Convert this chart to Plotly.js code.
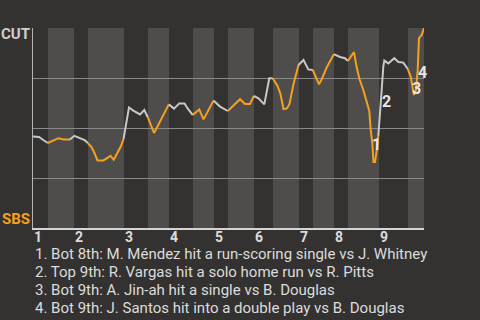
<!DOCTYPE html>
<html>
<head>
<meta charset="utf-8">
<script src="https://cdn.plot.ly/plotly-3.0.1.min.js"></script>
<style>html,body{margin:0;padding:0;background:#343230;}#chart{width:480px;height:320px;}</style>
</head>
<body>
<div id="chart"></div>
<script>
// Game progress (0-100) and CUT win probability
const progress = [0, 1.53, 2.63, 3.79, 5.24, 6.52, 7.80, 9.46, 10.56, 12.02, 13.30, 14.02,
  14.96, 15.60, 16.50, 18.03, 18.93, 19.82, 20.66, 21.61, 22.51, 23.15,
  24.55, 25.65, 26.52, 27.37, 28.47, 29.36,
  30.18, 30.95, 31.64, 32.48, 33.76, 34.73,
  36.06, 37.42, 38.75, 39.64, 40.87,
  42.53, 43.61, 44.83, 46.16,
  47.83, 49.82,
  51.23, 52.94, 54.22, 55.50, 56.47,
  57.67, 59.16, 60.43, 61.30,
  62.53, 63.30, 64.07, 64.96, 65.60, 66.57, 67.90,
  69.18, 70.41, 71.56,
  72.38, 73.15, 73.84, 75.12, 76.39, 76.93,
  78.52, 79.80, 80.51,
  82.10, 82.74, 83.50, 84.48, 85.35, 86.01, 86.37, 86.78, 87.08, 87.47, 87.85, 88.31,
  88.75, 89.18, 89.59, 89.85, 90.87, 92.40, 93.43, 94.71, 95.86,
  96.60, 97.11, 97.44, 97.95, 98.39, 98.72, 99.41, 100];
const winProb = [0.458, 0.455, 0.440, 0.425, 0.438, 0.449, 0.443, 0.442, 0.461, 0.449, 0.438, 0.425,
  0.405, 0.380, 0.338, 0.338, 0.349, 0.361, 0.341, 0.375, 0.410, 0.445,
  0.603, 0.587, 0.579, 0.568, 0.590, 0.554,
  0.518, 0.475, 0.500, 0.533, 0.580, 0.618,
  0.597, 0.623, 0.623, 0.595, 0.565,
  0.593, 0.543, 0.585, 0.637,
  0.607, 0.585,
  0.610, 0.644, 0.620, 0.620, 0.660,
  0.648, 0.618, 0.749, 0.749,
  0.710, 0.670, 0.595, 0.598, 0.620, 0.715, 0.815,
  0.840, 0.793, 0.790,
  0.749, 0.718, 0.744, 0.803, 0.849, 0.869,
  0.855, 0.849, 0.835,
  0.879, 0.807, 0.745, 0.690, 0.630, 0.585, 0.490, 0.424, 0.330, 0.330, 0.380, 0.460,
  0.557, 0.690, 0.807, 0.837, 0.823, 0.849, 0.830, 0.827, 0.795,
  0.757, 0.699, 0.665, 0.690, 0.790, 0.949, 0.965, 1.0];
// Half-inning boundaries (Top 1, Bot 1, Top 2, ...) in game progress
const halfStarts = [0, 3.84, 10.49, 14.07, 23.27, 29.41, 34.78, 40.92, 46.29, 49.87,
  56.52, 61.38, 68.03, 71.61, 76.98, 80.56, 88.49, 95.91, 100];
const innings = ['1','2','3','4','5','6','7','8','9'];
const teams = ['CUT', 'SBS'];
const events = [
  '1. Bot 8th: M. Méndez hit a run-scoring single vs J. Whitney',
  '2. Top 9th: R. Vargas hit a solo home run vs R. Pitts',
  '3. Bot 9th: A. Jin-ah hit a single vs B. Douglas',
  '4. Bot 9th: J. Santos hit into a double play vs B. Douglas'
];
const eventMarks = [
  {label: '1', x: 87.90, y: 0.42},
  {label: '2', x: 90.46, y: 0.635},
  {label: '3', x: 98.13, y: 0.70},
  {label: '4', x: 99.57, y: 0.779}
];

const TOP_COLOR = '#c8c8c8';
const BOT_COLOR = '#f5a01e';
const FONT = 'Roboto, "Noto Sans", sans-serif';

const traces = [];
const shapes = [];
for (let h = 0; h < halfStarts.length - 1; h++) {
  const a = halfStarts[h], b = halfStarts[h + 1];
  const xs = [], ys = [];
  let prev = -1;
  for (let i = 0; i < progress.length; i++) {
    const inside = (progress[i] >= a && progress[i] < b) || (h === halfStarts.length - 2 && progress[i] === b);
    if (inside) {
      if (xs.length === 0 && prev >= 0) { xs.push(progress[prev]); ys.push(winProb[prev]); }
      xs.push(progress[i]); ys.push(winProb[i]);
    } else if (progress[i] < a) prev = i;
  }
  const isBottom = h % 2 === 1;
  traces.push({x: xs, y: ys, type: 'scatter', mode: 'lines',
    line: {color: isBottom ? BOT_COLOR : TOP_COLOR, width: 2}, hoverinfo: 'skip', showlegend: false});
  if (isBottom) {
    shapes.push({type: 'rect', xref: 'x', yref: 'paper', x0: a, x1: b, y0: 0, y1: 1,
      fillcolor: '#4e4d4b', line: {width: 0}, layer: 'below'});
  }
}

const annotations = [];
for (let k = 0; k < innings.length; k++) {
  annotations.push({x: halfStarts[2 * k], y: -0.045, xref: 'x', yref: 'paper', text: innings[k],
    showarrow: false, xanchor: 'left', yanchor: 'middle', xshift: 1, borderpad: 0, borderwidth: 0,
    font: {family: FONT, size: 14, color: '#dddddd', weight: 'bold'}});
}
annotations.push({x: 0, y: 1, xref: 'paper', yref: 'paper', text: teams[0], showarrow: false,
  xanchor: 'right', yanchor: 'middle', xshift: -3, yshift: -6, borderpad: 0, borderwidth: 0,
  font: {family: FONT, size: 15, color: '#cfcfcf', weight: 'bold'}});
annotations.push({x: 0, y: 0, xref: 'paper', yref: 'paper', text: teams[1], showarrow: false,
  xanchor: 'right', yanchor: 'middle', xshift: -3, yshift: 9, borderpad: 0, borderwidth: 0,
  font: {family: FONT, size: 15, color: BOT_COLOR, weight: 'bold'}});
eventMarks.forEach(m => annotations.push({x: m.x, y: m.y, xref: 'x', yref: 'y', text: m.label,
  showarrow: false, xanchor: 'center', yanchor: 'middle', borderpad: 0, borderwidth: 0,
  font: {family: FONT, size: 16, color: '#e6e6e6', weight: 'bold'}}));
const footY = [253.5, 271.5, 289.5, 307.5];
events.forEach((t, i) => annotations.push({x: 0.005, y: (228 - footY[i]) / 200, xref: 'paper', yref: 'paper',
  text: t, showarrow: false, xanchor: 'left', yanchor: 'middle', borderpad: 0, borderwidth: 0,
  font: {family: FONT, size: 15, color: '#dcdcdc'}}));

const layout = {
  width: 480, height: 320,
  margin: {l: 33, r: 56, t: 28, b: 92, pad: 0},
  paper_bgcolor: '#343230', plot_bgcolor: '#343230',
  showlegend: false,
  xaxis: {range: [0, 100], showgrid: false, zeroline: false, showticklabels: false, ticks: '',
    showline: true, linecolor: '#d4d4d4', linewidth: 2, fixedrange: true},
  yaxis: {range: [0, 1], tickvals: [0.25, 0.5, 0.75, 1], showgrid: true, gridcolor: '#8a8a8a', gridwidth: 1,
    zeroline: false, showticklabels: false, ticks: '', showline: true, linecolor: '#b4b4b4', linewidth: 1,
    fixedrange: true},
  shapes: shapes,
  annotations: annotations
};

Plotly.newPlot('chart', traces, layout, {staticPlot: true, displayModeBar: false});
</script>
</body>
</html>
